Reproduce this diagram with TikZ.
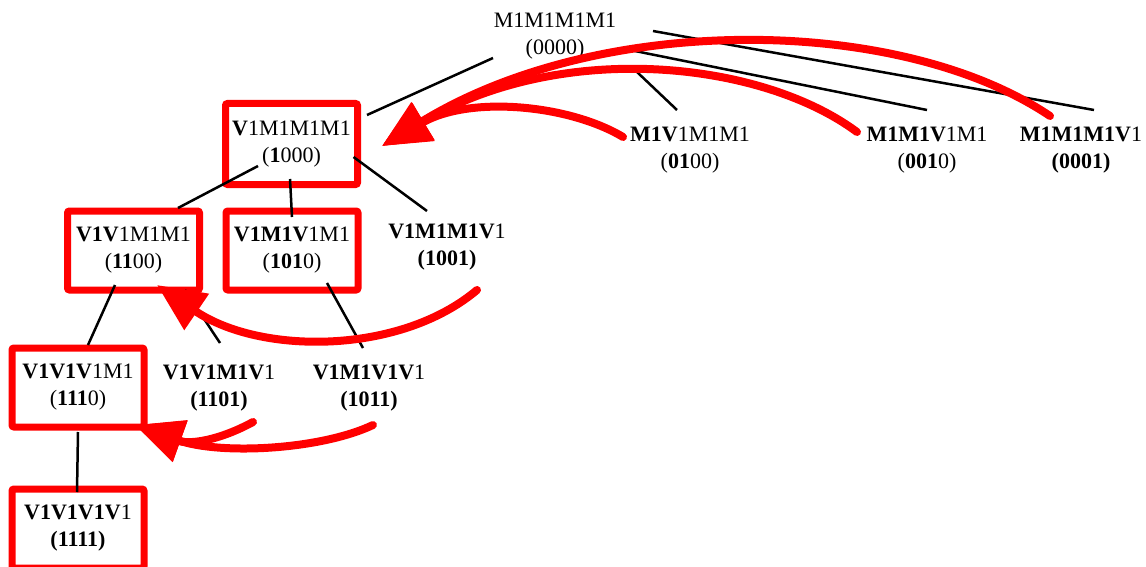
\documentclass[tikz,border=0pt]{standalone}
\usepackage{fontspec}
\setmainfont{Liberation Serif}
\usetikzlibrary{arrows.meta}
\begin{document}
\begin{tikzpicture}[x=1pt,y=-1pt,
  lbl/.style={align=center,font=\fontsize{22}{27}\selectfont,inner sep=0pt},
  sel/.style={lbl,draw=red,line width=7pt,rounded corners=2pt,minimum width=132pt,minimum height=79pt},
  tedge/.style={line width=2.5pt,black},
  hl/.style={draw=red,line width=8pt,line cap=round,-{Triangle[length=48pt,width=42pt]}}]
\useasboundingbox (0,0) rectangle (1146,567);
% nodes
\node[lbl] (r) at (555,36) {M1M1M1M1\\(0000)};
\node[sel,minimum height=81pt] (a) at (291.5,144) {\textbf{V}1M1M1M1\\(\textbf{1}000)};
\node[lbl] (b) at (690,150) {\textbf{M1V}1M1M1\\(\textbf{01}00)};
\node[lbl] (c) at (927,150) {\textbf{M1M1V}1M1\\(\textbf{001}0)};
\node[lbl] (d) at (1081,150) {\textbf{M1M1M1V}1\\\textbf{(0001)}};
\node[sel] (e) at (133.5,250.5) {\textbf{V1V}1M1M1\\(\textbf{11}00)};
\node[sel] (f) at (292,250.5) {\textbf{V1M1V}1M1\\(\textbf{101}0)};
\node[lbl] (g) at (447,247) {\textbf{V1M1M1V}1\\\textbf{(1001)}};
\node[sel] (h) at (78,387.5) {\textbf{V1V1V}1M1\\(\textbf{111}0)};
\node[lbl] (i) at (219,388) {\textbf{V1V1M1V}1\\\textbf{(1101)}};
\node[lbl] (j) at (369,388) {\textbf{V1M1V1V}1\\\textbf{(1011)}};
\node[sel] (k) at (78,528.5) {\textbf{V1V1V1V}1\\\textbf{(1111)}};
% tree edges
\draw[tedge] ([shift={(-62,22)}]r.center) -- ([shift={(75.5,-29)}]a.center);
\draw[tedge] ([shift={(82,36)}]r.center) -- ([shift={(-13,-40)}]b.center);
\draw[tedge] ([shift={(75,14)}]r.center) -- ([shift={(0,-40)}]c.center);
\draw[tedge] ([shift={(98,-5)}]r.center) -- ([shift={(13,-40)}]d.center);
\draw[tedge] ([shift={(-33.5,22)}]a.center) -- ([shift={(44.5,-42.5)}]e.center);
\draw[tedge] ([shift={(-1.5,35)}]a.center) -- ([shift={(0,-33.5)}]f.center);
\draw[tedge] ([shift={(62,13)}]a.center) -- ([shift={(-20,-36)}]g.center);
\draw[tedge] ([shift={(-18.5,34.5)}]e.center) -- ([shift={(10,-42.5)}]h.center);
\draw[tedge] ([shift={(51.5,39.5)}]e.center) -- ([shift={(1,-45)}]i.center);
\draw[tedge] ([shift={(35,32.5)}]f.center) -- ([shift={(-6,-40)}]j.center);
\draw[tedge] ([shift={(0,44.5)}]h.center) -- ([shift={(-1,-36.5)}]k.center);
% red arrows
\draw[hl] ([shift={(-67,-13)}]b.center) .. controls (570,105) and (470,95) .. ([shift={(90.5,2)}]a.center);
\draw[hl] ([shift={(-70,-18)}]c.center) .. controls (760,60) and (560,40) .. ([shift={(90.5,2)}]a.center);
\draw[hl] ([shift={(-31,-34)}]d.center) .. controls (900,15) and (600,12) .. ([shift={(90.5,2)}]a.center);
\draw[hl] ([shift={(30,43)}]g.center) .. controls (400,355) and (260,355) .. ([shift={(23.5,34.5)}]e.center);
\draw[hl] ([shift={(34,34)}]i.center) .. controls (220,440) and (190,445) .. ([shift={(57,37.5)}]h.center);
\draw[hl] ([shift={(4,37)}]j.center) .. controls (320,450) and (220,455) .. ([shift={(57,37.5)}]h.center);
\end{tikzpicture}
\end{document}
